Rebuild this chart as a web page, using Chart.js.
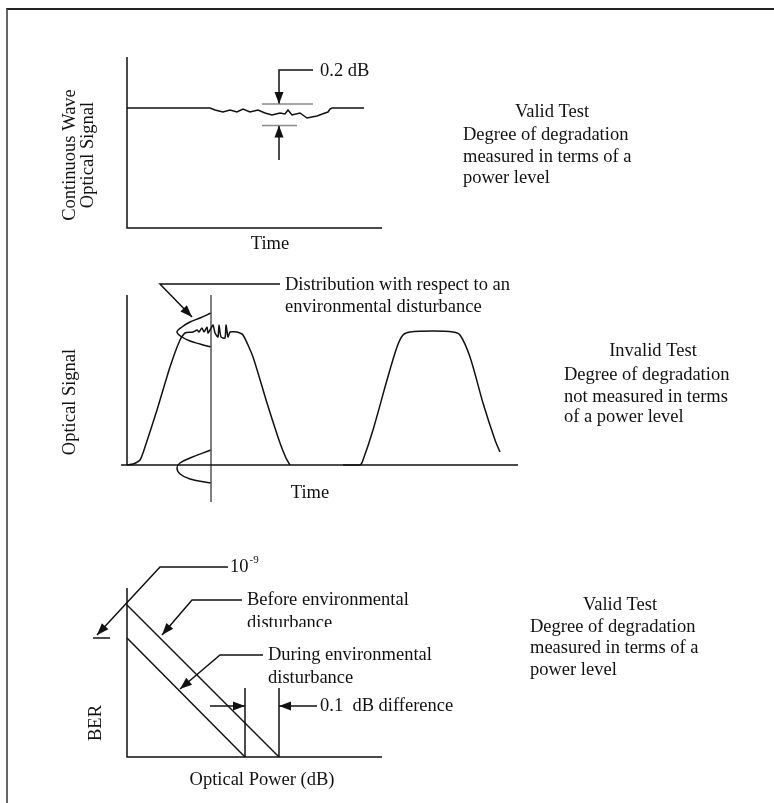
<!DOCTYPE html>
<html>
<head>
<meta charset="utf-8">
<script src="https://cdn.jsdelivr.net/npm/chart.js@4"></script>
<style>
  body { margin: 0; background: #fff; }
  #page { position: relative; width: 774px; height: 803px; overflow: hidden; background: #fff; }
  #frame { position: absolute; left: 6px; top: 8px; right: -10px; bottom: -10px; border-top: 2px solid #222; border-left: 2px solid #666; }
  canvas { position: absolute; left: 0; top: 0; }
</style>
</head>
<body>
<div id="page">
  <div id="frame"></div>
  <canvas id="cw" width="774" height="803"></canvas>
  <canvas id="pulse" width="774" height="803"></canvas>
  <canvas id="ber" width="774" height="803"></canvas>
</div>
<script>
// panel 1: continuous wave signal vs time
const cwTime  = [0, 83, 88, 96, 103, 110, 116, 123, 131, 138, 145, 153, 158, 161, 165, 173, 180, 190, 198, 201, 203, 205, 237];
const cwLevel = [120, 120, 118, 116, 118, 116, 119, 116, 118, 115, 113, 115, 114, 118, 113, 115, 110, 112, 115, 116, 119, 120, 120];
const cwUpperX = [135, 186], cwUpperY = [124, 124];
const cwLowerX = [135, 170], cwLowerY = [102.5, 102.5];
const cwDownArrowX = [186, 152, 152], cwDownArrowY = [158, 158, 124];
const cwUpArrowX = [152, 152], cwUpArrowY = [68, 102.5];

// panel 2: pulses vs time
const pulse1Time  = [0, 6, 13, 18, 30, 43, 53, 58, 66, 70, 72, 75, 77, 80, 81, 83, 86, 88, 91, 92, 94, 98, 99, 101, 103, 110, 116, 126, 140, 153, 159, 163];
const pulse1Level = [0, 1, 5, 18, 55, 98, 125, 132, 133, 135, 133, 137, 133, 138, 132, 135, 140, 132, 128, 140, 128, 127, 140, 128, 133, 133, 130, 108, 62, 22, 7, 0];
const pulse2Time  = [216, 233, 236, 246, 260, 270, 276, 283, 306, 326, 333, 343, 356, 368, 373];
const pulse2Level = [0, 0, 5, 35, 85, 118, 130, 133, 134, 133, 130, 108, 62, 25, 13];
const sampleX = [84, 84], sampleY = [170, -37];
const distTopX = [84, 73, 63, 55, 50, 55, 63, 73, 84];
const distTopY = [152, 147, 143, 138, 133, 128, 124, 121, 118];
const distLowX = [84, 63, 53, 50, 53, 63, 84];
const distLowY = [15, 7, 2, -3, -9, -14, -18];
const distLeaderX = [153, 33, 65], distLeaderY = [181, 181, 148];

// panel 3: BER vs optical power
const beforeX = [0, 152], beforeY = [152, 0];
const duringX = [0, 118], duringY = [119, 0];
const duringMarkX = [118, 118], beforeMarkX = [152, 152], markY = [0, 69];
const diffLeftX = [83, 118], diffRightX = [190, 152], diffY = [51, 51];
const tenLeaderX = [101, 33, -30], tenLeaderY = [190, 190, 122];
const tenTickX = [-34, -17], tenTickY = [119, 119];
const beforeLeaderX = [115, 65, 35], beforeLeaderY = [157, 157, 122];
const duringLeaderX = [136, 93, 53], duringLeaderY = [102, 102, 68];

const INK = "#111";
const FONT = '18.5px "Liberation Serif", "Times New Roman", serif';
const SUP_FONT = '11px "Liberation Serif", "Times New Roman", serif';

function zip(xs, ys) { return xs.map((x, i) => ({ x: x, y: ys[i] })); }

function line(xs, ys, opts) {
  return Object.assign({
    data: zip(xs, ys),
    borderColor: INK, borderWidth: 1.5, pointRadius: 0,
    tension: 0, clip: false, fill: false
  }, opts || {});
}

const arrowHeads = {
  id: "arrowHeads",
  afterDatasetsDraw(chart) {
    const ctx = chart.ctx;
    chart.data.datasets.forEach((ds, i) => {
      if (!ds.arrow) return;
      const pts = chart.getDatasetMeta(i).data;
      const a = pts[pts.length - 2], b = pts[pts.length - 1];
      const ang = Math.atan2(b.y - a.y, b.x - a.x);
      ctx.save();
      ctx.translate(b.x, b.y);
      ctx.rotate(ang);
      ctx.beginPath();
      ctx.moveTo(0, 0);
      ctx.lineTo(-12, -4.5);
      ctx.lineTo(-12, 4.5);
      ctx.closePath();
      ctx.fillStyle = INK;
      ctx.fill();
      ctx.restore();
    });
  }
};

function labelPlugin(items) {
  return {
    id: "textLabels",
    afterDraw(chart) {
      const ctx = chart.ctx, sx = chart.scales.x, sy = chart.scales.y;
      items.forEach(t => {
        const px = sx.getPixelForValue(t.x), py = sy.getPixelForValue(t.y);
        ctx.save();
        if (t.clipY !== undefined) {
          ctx.beginPath();
          ctx.rect(0, 0, chart.width, sy.getPixelForValue(t.clipY));
          ctx.clip();
        }
        ctx.font = FONT;
        ctx.fillStyle = INK;
        ctx.textAlign = t.align || "left";
        ctx.textBaseline = "middle";
        ctx.translate(px, py);
        if (t.rotate) ctx.rotate(-Math.PI / 2);
        ctx.fillText(t.text, 0, 0);
        if (t.sup) {
          const w = ctx.measureText(t.text).width;
          ctx.font = SUP_FONT;
          ctx.fillText(t.sup, w + 1, -7);
        }
        ctx.restore();
      });
    }
  };
}

function makeChart(id, pad, xMax, yMax, datasets, labels) {
  return new Chart(document.getElementById(id), {
    type: "line",
    data: { datasets: datasets },
    options: {
      responsive: false,
      animation: false,
      events: [],
      layout: { padding: pad },
      scales: {
        x: { type: "linear", min: 0, max: xMax, display: false },
        y: { type: "linear", min: 0, max: yMax, display: false }
      },
      plugins: { legend: { display: false }, tooltip: { enabled: false } }
    },
    plugins: [arrowHeads, labelPlugin(labels)]
  });
}

makeChart("cw", { left: 127, right: 392, top: 57, bottom: 575 }, 255, 171, [
  line([0, 0, 255], [171, 0, 0]),
  line(cwTime, cwLevel),
  line(cwUpperX, cwUpperY, { borderColor: "#8a8a8a" }),
  line(cwLowerX, cwLowerY, { borderColor: "#8a8a8a" }),
  line(cwDownArrowX, cwDownArrowY, { arrow: true }),
  line(cwUpArrowX, cwUpArrowY, { arrow: true })
], [
  { text: "0.2 dB", x: 193, y: 157 },
  { text: "Time", x: 143, y: -16, align: "center" },
  { text: "Continuous Wave", x: -57, y: 73, align: "center", rotate: true },
  { text: "Optical Signal", x: -39, y: 73, align: "center", rotate: true },
  { text: "Valid Test", x: 425, y: 116, align: "center" },
  { text: "Degree of degradation", x: 336, y: 93 },
  { text: "measured in terms of a", x: 336, y: 71 },
  { text: "power level", x: 336, y: 50 }
]);

makeChart("pulse", { left: 127, right: 256, top: 295, bottom: 338 }, 391, 170, [
  line([0, 0], [170, 0]),
  line([-6, 391], [0, 0]),
  line(pulse1Time, pulse1Level, { tension: 0.2 }),
  line(pulse2Time, pulse2Level, { tension: 0.3 }),
  line(sampleX, sampleY, { borderColor: "#555" }),
  line(distTopX, distTopY, { tension: 0.4 }),
  line(distLowX, distLowY, { tension: 0.4 }),
  line(distLeaderX, distLeaderY, { arrow: true })
], [
  { text: "Distribution with respect to an", x: 158, y: 180 },
  { text: "environmental disturbance", x: 158, y: 158 },
  { text: "Time", x: 183, y: -28, align: "center" },
  { text: "Optical Signal", x: -57, y: 63, align: "center", rotate: true },
  { text: "Invalid Test", x: 526, y: 114, align: "center" },
  { text: "Degree of degradation", x: 437, y: 90 },
  { text: "not measured in terms", x: 437, y: 68 },
  { text: "of a power level", x: 437, y: 48 }
]);

makeChart("ber", { left: 127, right: 392, top: 588, bottom: 46 }, 255, 169, [
  line([0, 0, 255], [169, 0, 0]),
  line(beforeX, beforeY),
  line(duringX, duringY),
  line(duringMarkX, markY),
  line(beforeMarkX, markY),
  line(diffLeftX, diffY, { arrow: true }),
  line(diffRightX, diffY, { arrow: true }),
  line(tenLeaderX, tenLeaderY, { arrow: true }),
  line(tenTickX, tenTickY),
  line(beforeLeaderX, beforeLeaderY, { arrow: true }),
  line(duringLeaderX, duringLeaderY, { arrow: true })
], [
  { text: "10", sup: "-9", x: 103, y: 190 },
  { text: "Before environmental", x: 120, y: 157 },
  { text: "disturbance", x: 120, y: 134, clipY: 130 },
  { text: "During environmental", x: 141, y: 102 },
  { text: "disturbance", x: 141, y: 79 },
  { text: "0.1  dB difference", x: 193, y: 51 },
  { text: "BER", x: -31, y: 34, align: "center", rotate: true },
  { text: "Optical Power (dB)", x: 135, y: -23, align: "center" },
  { text: "Valid Test", x: 493, y: 152, align: "center" },
  { text: "Degree of degradation", x: 403, y: 130 },
  { text: "measured in terms of a", x: 403, y: 109 },
  { text: "power level", x: 403, y: 87 }
]);
</script>
</body>
</html>
